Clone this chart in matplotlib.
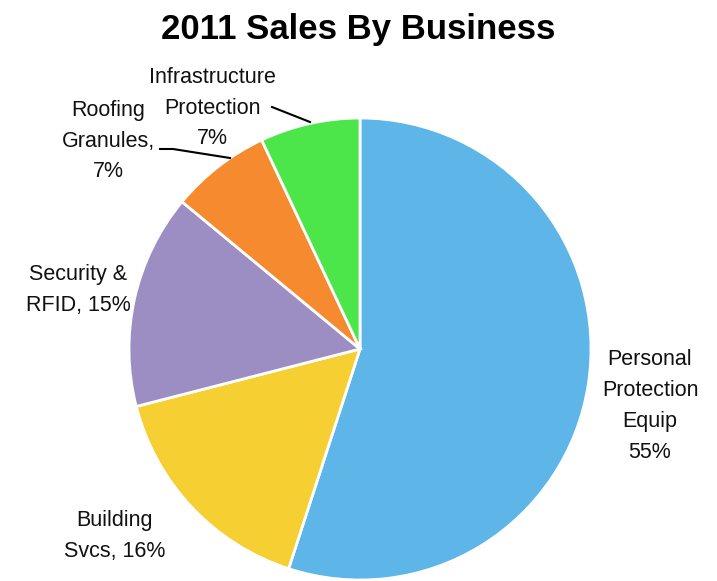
import matplotlib
matplotlib.use("Agg")
import matplotlib.pyplot as plt
from matplotlib import font_manager

# narrow sans if available, otherwise plain Liberation Sans
names = {f.name for f in font_manager.fontManager.ttflist}
FONT = "Liberation Sans Narrow" if "Liberation Sans Narrow" in names else "Liberation Sans"

businesses = ["Personal Protection Equip", "Building Svcs", "Security & RFID",
              "Roofing Granules", "Infrastructure Protection"]
shares = [55, 16, 15, 7, 7]
colors = ["#5db5e8", "#f6cf33", "#9c8dc3", "#f58a2e", "#4de64a"]
label_text = ["Personal\nProtection\nEquip\n55%", "Building\nSvcs, 16%",
              "Security &\nRFID, 15%", "Roofing\nGranules,\n7%",
              "Infrastructure\nProtection\n7%"]

W, H = 717, 581
fig = plt.figure(figsize=(W / 100, H / 100), dpi=100)
ax = fig.add_axes([0, 0, 1, 1])

# y axis runs downward (pixel style), so angles are mirrored:
# start at -90 and go "counterclockwise" to get a clockwise pie from the top
ax.pie(shares, colors=colors, startangle=-90, counterclock=True,
       center=(360, 349), radius=231,
       wedgeprops=dict(edgecolor="white", linewidth=2))
ax.set_xlim(0, W)
ax.set_ylim(H, 0)
ax.set_aspect("equal")
ax.axis("off")

label_pos = [(650, 406), (115, 536), (78, 290), (108, 141), (212, 108)]
for txt, (x, y) in zip(label_text, label_pos):
    ax.text(x, y, txt, ha="center", va="center", fontsize=15.5,
            family=FONT, linespacing=1.62, color="#111111")

# leader lines for the two small slices
ax.plot([160, 173, 230], [149, 149, 158], color="black", lw=1.5)
ax.plot([272, 310], [107, 122], color="black", lw=1.5)

ax.text(358, 29, "2011 Sales By Business", ha="center", va="center",
        fontsize=25, fontweight="bold", family=FONT)

fig.savefig("out.png", dpi=100)
